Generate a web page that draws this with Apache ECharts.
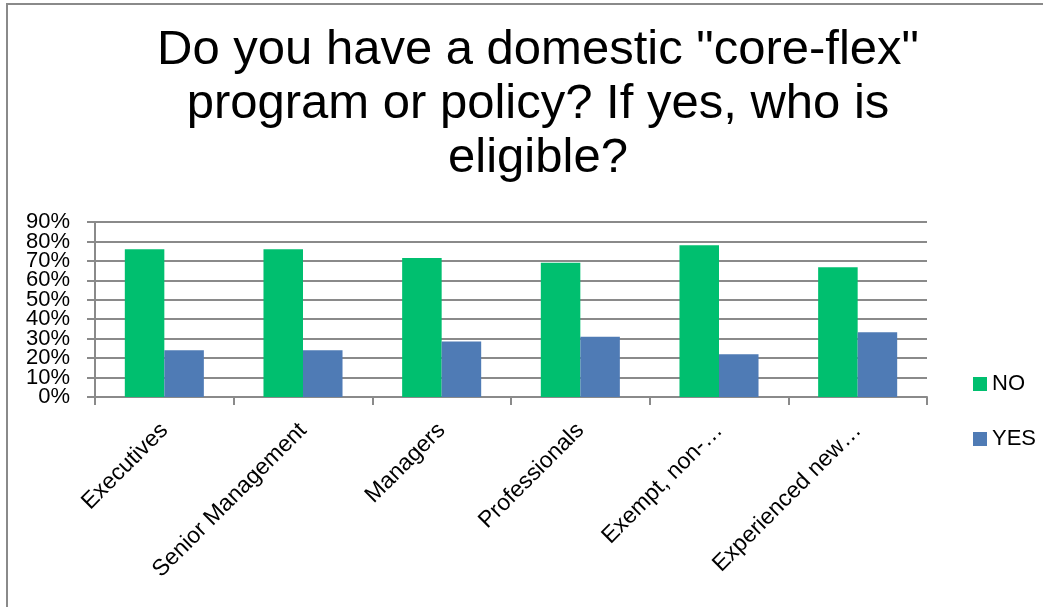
<!DOCTYPE html>
<html>
<head>
<meta charset="utf-8">
<script src="https://cdn.jsdelivr.net/npm/echarts@6/dist/echarts.min.js"></script>
<style>
  html, body { margin: 0; padding: 0; background: #fff; }
  #frame { position: absolute; left: 6px; top: 3px; width: 1100px; height: 700px;
           border-left: 2px solid #8a8a8a; border-top: 2px solid #8a8a8a; }
  #main { position: absolute; left: 0; top: 0; width: 1043px; height: 607px; }
</style>
</head>
<body>
<div id="frame"></div>
<div id="main"></div>
<script>
// categories and values (percent)
var categories = ['Executives', 'Senior Management', 'Managers', 'Professionals', 'Exempt, non-…', 'Experienced new…'];
var noValues = [76, 76, 71.5, 69, 78, 66.7];
var yesValues = [24, 24, 28.5, 31, 22, 33.3];

var myChart = echarts.init(document.getElementById('main'));

var labelFont = { fontFamily: 'Liberation Sans', fontSize: 22, color: '#000' };

// the y labels are packed tighter than their height, so split them over two
// overlaid axes (even and odd tens) to keep echarts from hiding any of them
function yAxisDef(even, main) {
    return {
        type: 'value',
        min: 0,
        max: 90,
        interval: 10,
        position: 'left',
        axisLine: { show: main, lineStyle: { color: '#8a8a8a', width: 2 } },
        axisTick: { show: main, length: 8, lineStyle: { color: '#8a8a8a', width: 2 } },
        splitLine: { show: main, lineStyle: { color: '#8a8a8a', width: 2 } },
        axisLabel: Object.assign({
            margin: 25,
            showMinLabel: true,
            showMaxLabel: true,
            formatter: function (v) {
                return ((v / 10) % 2 === 0) === even ? v + '%' : '';
            }
        }, labelFont)
    };
}

var option = {
    animation: false,
    title: {
        text: 'Do you have a domestic "core-flex"\nprogram or policy? If yes, who is\neligible?',
        left: 533,
        textAlign: 'center',
        top: 18,
        textStyle: {
            fontFamily: 'Liberation Sans',
            fontSize: 49,
            fontWeight: 'normal',
            lineHeight: 54,
            color: '#000'
        }
    },
    legend: {
        orient: 'vertical',
        left: 968,
        top: 368,
        itemWidth: 14,
        itemHeight: 14,
        itemGap: 33,
        icon: 'rect',
        textStyle: { fontFamily: 'Liberation Sans', fontSize: 22, color: '#000' },
        data: ['NO', 'YES']
    },
    grid: {
        left: 95,
        right: 116,
        top: 222,
        bottom: 210
    },
    xAxis: {
        type: 'category',
        data: categories,
        axisLine: { lineStyle: { color: '#8a8a8a', width: 2 } },
        axisTick: { show: true, length: 8, lineStyle: { color: '#8a8a8a', width: 2 } },
        axisLabel: {
            rotate: 45,
            interval: 0,
            margin: 30,
            fontFamily: 'Liberation Sans',
            fontSize: 23,
            color: '#000'
        }
    },
    yAxis: [yAxisDef(true, true), yAxisDef(false, false)],
    series: [{
        name: 'NO',
        type: 'bar',
        data: noValues,
        barGap: '0%',
        barCategoryGap: '43%',
        itemStyle: { color: '#00bf6f' }
    }, {
        name: 'YES',
        type: 'bar',
        data: yesValues,
        itemStyle: { color: '#4f7bb5' }
    }]
};

myChart.setOption(option);
</script>
</body>
</html>
